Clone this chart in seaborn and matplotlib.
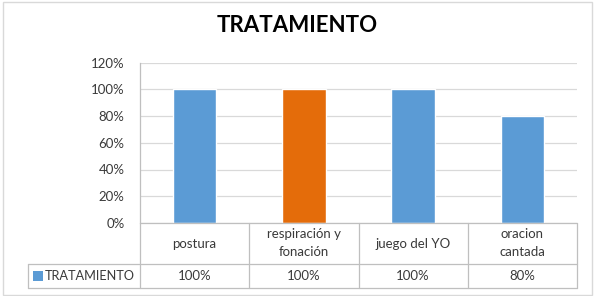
import matplotlib
matplotlib.use("Agg")
import matplotlib.pyplot as plt
import matplotlib.transforms as mtransforms
from matplotlib.patches import Rectangle
import seaborn as sns
import pandas as pd

# Données
categorias = ["postura", "respiración y\nfonación", "juego del YO", "oracion\ncantada"]
valores = [1.00, 1.00, 1.00, 0.80]
etiquetas_valor = ["100%", "100%", "100%", "80%"]
serie = "TRATAMIENTO"
colores = ["#5B9BD5", "#E46C0A", "#5B9BD5", "#5B9BD5"]
yticks = [0, 0.2, 0.4, 0.6, 0.8, 1.0, 1.2]

sns.set_theme(style="white")
plt.rcParams["font.family"] = ["Lato", "DejaVu Sans"]

df = pd.DataFrame({"cat": categorias, "val": valores})

fig = plt.figure(figsize=(6, 2.96), dpi=100)
ax = fig.add_axes([140 / 600, 1 - 223 / 296, 437 / 600, (223 - 62.5) / 296])

sns.barplot(data=df, x="cat", y="val", hue="cat", palette=colores,
            width=0.4, legend=False, saturation=1, ax=ax)

ax.set_xlim(-0.5, 3.5)
ax.set_ylim(0, 1.2)
ax.set_yticks(yticks)
ax.set_yticklabels([f"{int(round(t * 100))}%" for t in yticks], fontsize=9.5, color="#3A3A3A")
ax.tick_params(axis="y", length=0, pad=11)
ax.set_xticks([])
ax.set_xlabel("")
ax.set_ylabel("")
ax.yaxis.grid(True, color="#D9D9D9", linewidth=0.9)
ax.set_axisbelow(True)
for s in ["top", "right", "bottom"]:
    ax.spines[s].set_visible(False)
ax.spines["left"].set_color("#BFBFBF")
ax.spines["left"].set_linewidth(0.9)

# Tabla de datos
trans = mtransforms.blended_transform_factory(ax.transData, ax.transAxes)
linea = dict(color="#BFBFBF", linewidth=0.9, clip_on=False, transform=trans)
y_fila1 = -(264 - 223) / 160.5
y_fila2 = -(288 - 223) / 160.5
x_izq = -0.5 - 112 / 109.25
ax.plot([-0.5, 3.5], [0, 0], **linea)
ax.plot([x_izq, 3.5], [y_fila1, y_fila1], **linea)
ax.plot([x_izq, 3.5], [y_fila2, y_fila2], **linea)
ax.plot([x_izq, x_izq], [y_fila1, y_fila2], **linea)
for i in range(len(categorias) + 1):
    ax.plot([i - 0.5, i - 0.5], [0, y_fila2], **linea)

for i, (c, v) in enumerate(zip(categorias, etiquetas_valor)):
    ax.text(i, y_fila1 / 2, c, transform=trans, ha="center", va="center",
            fontsize=9.5, color="#3A3A3A", linespacing=1.6)
    ax.text(i, (y_fila1 + y_fila2) / 2, v, transform=trans, ha="center", va="center",
            fontsize=9.5, color="#3A3A3A")

# Leyenda en la tabla
y_mid = (y_fila1 + y_fila2) / 2
ax.add_patch(Rectangle((x_izq + 5 / 109.25, y_mid - 5 / 160.5), 10 / 109.25, 10 / 160.5,
                       facecolor=colores[0], edgecolor="none", transform=trans, clip_on=False))
ax.text(x_izq + 17 / 109.25, y_mid, serie, transform=trans, ha="left", va="center",
        fontsize=9.2, color="#3A3A3A")

fig.text(297 / 600, 1 - 25 / 296, "TRATAMIENTO", ha="center", va="center",
         fontsize=16, fontweight="bold", color="black")

# Borde exterior
fig.patches.append(Rectangle((3 / 600, 1 / 296), 589 / 600, 293 / 296, transform=fig.transFigure,
                             facecolor="none", edgecolor="#D9D9D9", linewidth=1))

fig.savefig("out.png", dpi=100)
